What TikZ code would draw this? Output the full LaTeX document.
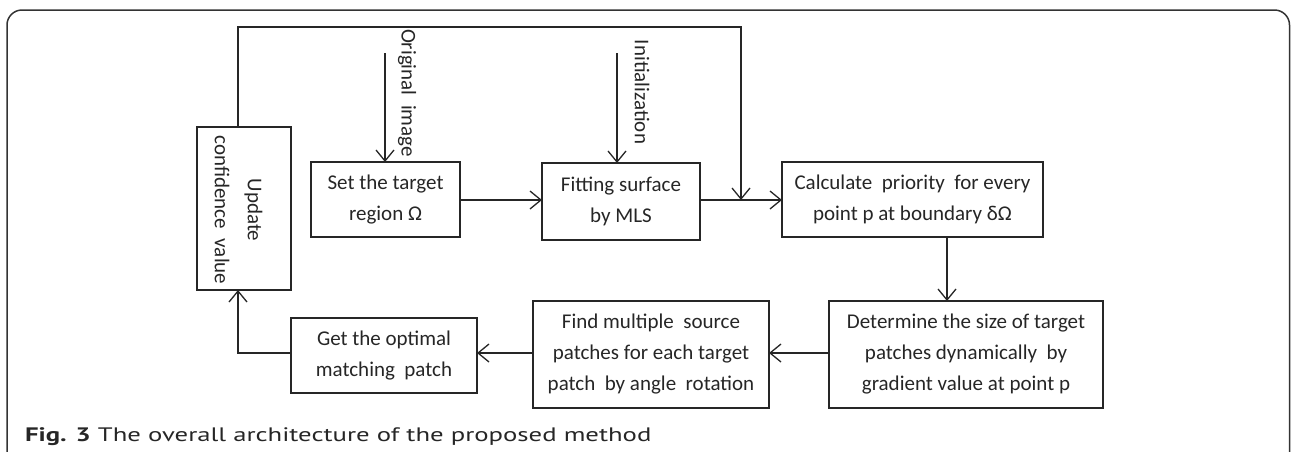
\documentclass[tikz,border=0pt]{standalone}
\usepackage{fontspec}
\setmainfont{Carlito}
\newfontfamily\capfont[FakeStretch=1.37]{PT Sans}
\usetikzlibrary{arrows.meta}
\begin{document}
\begin{tikzpicture}[x=1pt,y=-1pt,
  every node/.style={inner sep=0pt,outer sep=0pt,text=black!85},
  box/.style={draw=black!85,line width=1.3pt,align=center,font=\fontsize{21}{31}\selectfont},
  conn/.style={draw=black!85,line width=1.3pt,-{Straight Barb[length=11pt,width=18pt,line width=1.3pt]}},
  lbl/.style={rotate=-90,font=\fontsize{21}{33}\selectfont,align=center}]
\useasboundingbox (0,0) rectangle (1291,451);
\draw[line width=1.5pt,draw=black!80,rounded corners=15pt] (7,470) -- (7,10) -- (1289.5,10) -- (1289.5,470);
\node[box,minimum width=149pt,minimum height=75pt] (set) at (385.5,199.5) {Set the target\\region Ω};
\node[box,minimum width=158pt,minimum height=77pt] (fit) at (621,201.5) {Fitting surface\\by MLS};
\node[box,minimum width=261pt,minimum height=75pt] (calc) at (912.5,199.5) {Calculate\ \ priority\ \ for every\\point p at boundary δΩ};
\node[box,minimum width=274pt,minimum height=107pt] (det) at (966,354.5) {Determine the size of target\\patches dynamically\ \ by\\gradient value at point p};
\node[box,minimum width=236pt,minimum height=107pt] (find) at (651,354.5) {Find multiple\ \ source\\patches for each target\\patch\ \ by angle\ \ rotation};
\node[box,minimum width=186pt,minimum height=75pt] (get) at (384,355.5) {Get the optimal\\matching\ \ patch};
\node[box,minimum width=94pt,minimum height=163pt] (upd) at (244,208.5) {};
\node[lbl] (updt) at (238.5,210) {Update\\confidence\ \ value};
\node[lbl] (origl) at (407,93) {Original\ \ image};
\node[lbl] (initl) at (642,92) {Initialization};
\coordinate (otop) at (385,53);
\coordinate (itop) at (617,53);
\coordinate (lx) at (238,0);
\coordinate (ltl) at (238,27);
\coordinate (ltr) at (741,27);
\coordinate (cx) at (947,0);
\coordinate (rowy) at (0,353);
\draw[conn] (otop) -- (otop |- set.north);
\draw[conn] (itop) -- (itop |- fit.north);
\draw[conn] (set.east |- 0,200) -- (fit.west |- 0,200);
\draw[conn] (fit.east |- 0,200) -- (calc.west |- 0,200);
\draw[conn] (upd.north -| lx) -- (ltl) -- (ltr) -- (ltr |- 0,200);
\draw[conn] (calc.south -| cx) -- (det.north -| cx);
\draw[conn] (det.west |- rowy) -- (find.east |- rowy);
\draw[conn] (find.west |- rowy) -- (get.east |- rowy);
\draw[conn] (get.west |- rowy) -- (lx |- rowy) -- (upd.south -| lx);
\node[anchor=base west,font=\capfont\fontsize{19.5}{22}\selectfont] (cap) at (25,441) {\textbf{Fig. 3} The overall architecture of the proposed method};
\end{tikzpicture}
\end{document}
